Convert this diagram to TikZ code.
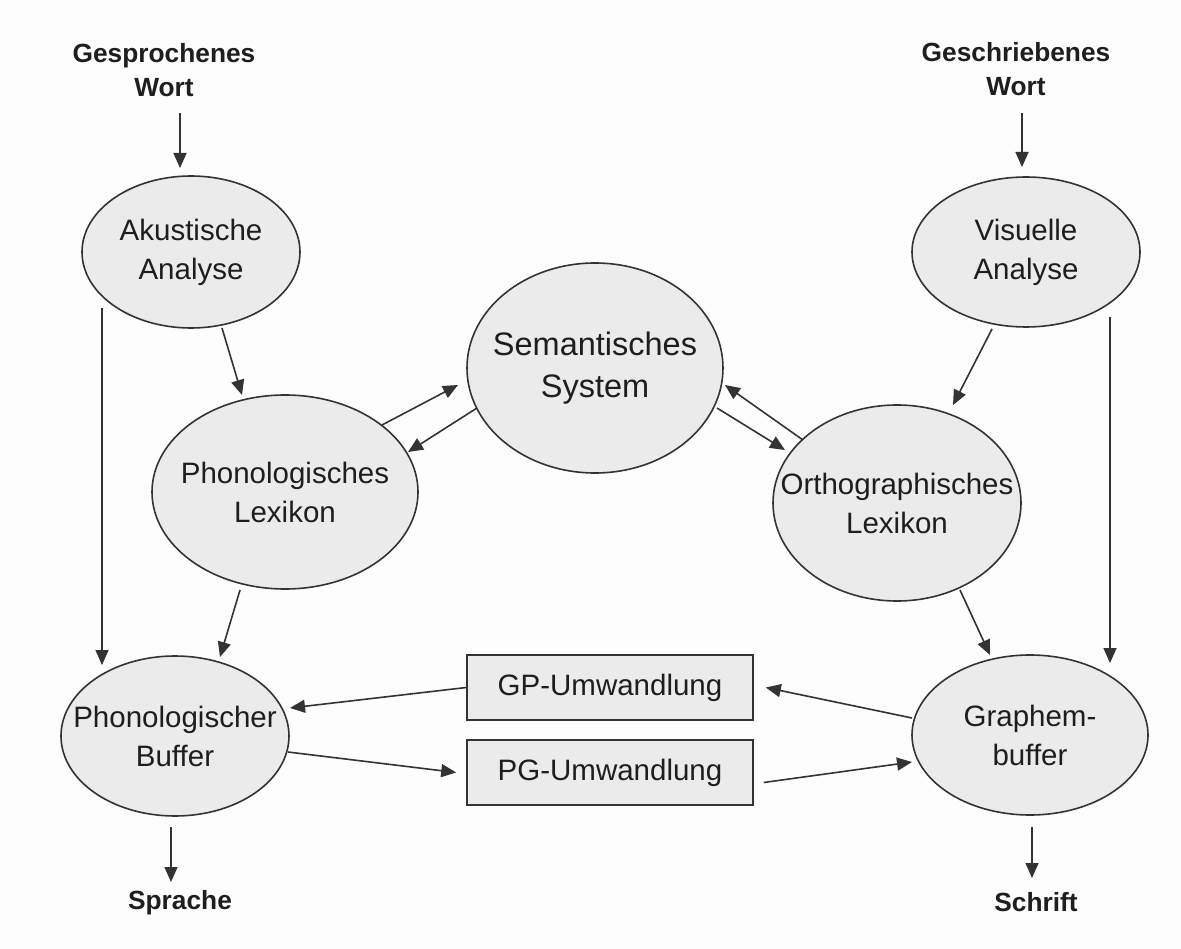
\documentclass[tikz,border=0pt]{standalone}
\usepackage{fontspec}
\setmainfont{Liberation Sans}
\usetikzlibrary{shapes.geometric,arrows.meta,calc}
\definecolor{linecol}{HTML}{333333}
\definecolor{textcol}{HTML}{1E1E1E}
\definecolor{ellfill}{HTML}{EBEBEB}
\definecolor{bgcol}{HTML}{FDFDFD}
\begin{document}
\begin{tikzpicture}[x=1pt,y=-1pt,
  ell/.style={ellipse, draw=linecol, fill=ellfill, line width=1.6pt, inner sep=0pt},
  txt/.style={align=center, text=textcol, font=\fontsize{29.5}{39}\selectfont, inner sep=0pt},
  bigtxt/.style={align=center, text=textcol, font=\fontsize{32.5}{42}\selectfont, inner sep=0pt},
  iotxt/.style={align=center, text=textcol, font=\bfseries\fontsize{26.3}{34}\selectfont, inner sep=0pt},
  boxnode/.style={rectangle, draw=linecol, fill=ellfill, line width=1.6pt, minimum width=286pt, minimum height=65pt, inner sep=0pt, text=textcol, font=\fontsize{29.5}{39}\selectfont},
  arr/.style={-{Triangle[length=15pt,width=13pt]}, line width=1.6pt, draw=linecol},
]
\fill[bgcol] (0,0) rectangle (1181,949);

% input / output labels
\node[iotxt] (gw) at (164,70) {Gesprochenes\\Wort};
\node[iotxt] (sw) at (1016,69) {Geschriebenes\\Wort};
\node[iotxt] (sp) at (180,903) {Sprache};
\node[iotxt] (sc) at (1036,902) {Schrift};

% ellipses
\node[ell, minimum width=218pt, minimum height=152pt] (ak) at (191,252) {};
\node[txt] at (ak) {Akustische\\Analyse};
\node[ell, minimum width=228pt, minimum height=150pt] (va) at (1026,252) {};
\node[txt] at (va) {Visuelle\\Analyse};
\node[ell, minimum width=256pt, minimum height=210pt] (sem) at (595,368) {};
\node[bigtxt] at (sem) {Semantisches\\System};
\node[ell, minimum width=266pt, minimum height=194pt] (pl) at (285,492) {};
\node[txt] at (pl) {Phonologisches\\Lexikon};
\node[ell, minimum width=248pt, minimum height=196pt] (ol) at (897,503) {};
\node[txt] at (ol) {Orthographisches\\Lexikon};
\node[ell, minimum width=228pt, minimum height=160pt] (pb) at (175,736) {};
\node[txt] at (pb) {Phonologischer\\Buffer};
\node[ell, minimum width=236pt, minimum height=160pt] (gb) at (1030,735) {};
\node[txt] at (gb) {Graphem-\\buffer};

% boxes
\node[boxnode] (gp) at (610,687.5) {GP-Umwandlung};
\node[boxnode] (pg) at (610,772.5) {PG-Umwandlung};

% connectors
\draw[arr] ($(gw)+(16,43)$) -- ($(ak)+(-11,-84)$);
\draw[arr] ($(sw)+(6,44)$) -- ($(va)+(-4,-85)$);
\draw[arr] ($(ak)+(-89,56)$) -- ($(pb)+(-73,-71)$);
\draw[arr] ($(va)+(84,65)$) -- ($(gb)+(80,-72)$);
\draw[arr] ($(ak)+(31,76)$) -- ($(pl)+(-43,-97)$);
\draw[arr] ($(va)+(-34,77)$) -- ($(ol)+(56,-98)$);
\draw[arr] ($(pl)+(-45,98)$) -- ($(pb)+(45,-79)$);
\draw[arr] ($(ol)+(63,87)$) -- ($(gb)+(-40,-80)$);
\draw[arr] ($(pl)+(97,-67)$) -- ($(sem)+(-137,17)$);
\draw[arr] ($(sem)+(-118,40)$) -- ($(pl)+(123,-40)$);
\draw[arr] ($(sem)+(122,40)$) -- ($(ol)+(-112,-53)$);
\draw[arr] ($(ol)+(-94,-63)$) -- ($(sem)+(130,17)$);
\draw[arr] (gp.west) -- ($(pb)+(115,-28)$);
\draw[arr] ($(pb)+(113,16)$) -- ($(pg.west)+(-10,0)$);
\draw[arr] ($(gb)+(-118,-17)$) -- ($(gp.east)+(12,0)$);
\draw[arr] ($(pg.east)+(10,10)$) -- ($(gb)+(-118,27)$);
\draw[arr] ($(pb)+(-4,91)$) -- ($(sp)+(-9,-21)$);
\draw[arr] ($(gb)+(2,92)$) -- ($(sc)+(-4,-24)$);
\end{tikzpicture}
\end{document}
